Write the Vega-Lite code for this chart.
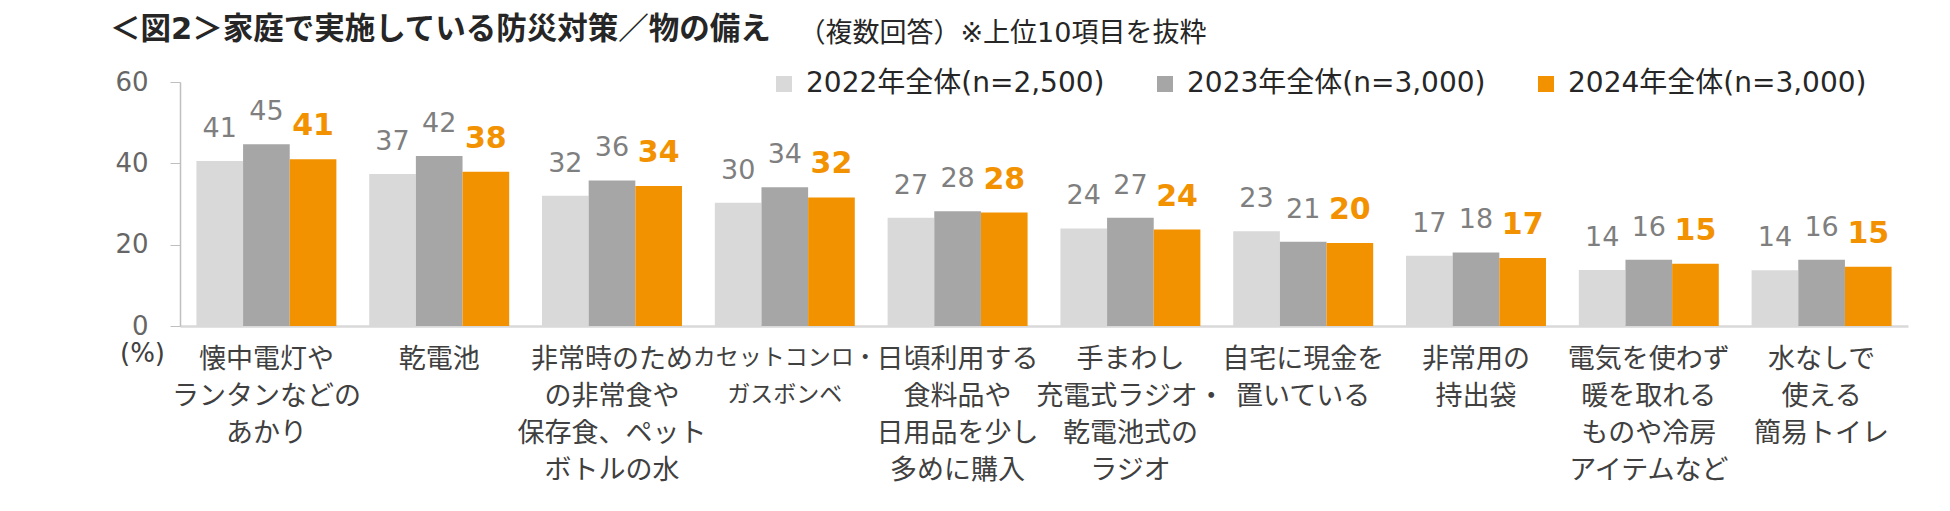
{
  "$schema": "https://vega.github.io/schema/vega-lite/v6.json",
  "width": 1728,
  "height": 244,
  "autosize": "none",
  "padding": {"left": 180, "top": 82, "right": 42, "bottom": 185},
  "background": "white",
  "title": {
    "text": "＜図2＞家庭で実施している防災対策／物の備え",
    "anchor": "start",
    "frame": "group",
    "dx": -70,
    "offset": -26,
    "font": "DejaVu Sans, Noto Sans CJK JP",
    "fontSize": 30.5,
    "fontWeight": "bold",
    "color": "#262626"
  },
  "data": {
    "values": [
      {"item": "懐中電灯や\nランタンなどの\nあかり", "year": "2022年全体(n=2,500)", "pct": 40.6},
      {"item": "懐中電灯や\nランタンなどの\nあかり", "year": "2023年全体(n=3,000)", "pct": 44.7},
      {"item": "懐中電灯や\nランタンなどの\nあかり", "year": "2024年全体(n=3,000)", "pct": 41.0},
      {"item": "乾電池", "year": "2022年全体(n=2,500)", "pct": 37.4},
      {"item": "乾電池", "year": "2023年全体(n=3,000)", "pct": 41.8},
      {"item": "乾電池", "year": "2024年全体(n=3,000)", "pct": 37.9},
      {"item": "非常時のため\nの非常食や\n保存食、ペット\nボトルの水", "year": "2022年全体(n=2,500)", "pct": 32.0},
      {"item": "非常時のため\nの非常食や\n保存食、ペット\nボトルの水", "year": "2023年全体(n=3,000)", "pct": 35.8},
      {"item": "非常時のため\nの非常食や\n保存食、ペット\nボトルの水", "year": "2024年全体(n=3,000)", "pct": 34.4},
      {"item": "カセットコンロ・\nガスボンベ", "year": "2022年全体(n=2,500)", "pct": 30.3},
      {"item": "カセットコンロ・\nガスボンベ", "year": "2023年全体(n=3,000)", "pct": 34.1},
      {"item": "カセットコンロ・\nガスボンベ", "year": "2024年全体(n=3,000)", "pct": 31.6},
      {"item": "日頃利用する\n食料品や\n日用品を少し\n多めに購入", "year": "2022年全体(n=2,500)", "pct": 26.6},
      {"item": "日頃利用する\n食料品や\n日用品を少し\n多めに購入", "year": "2023年全体(n=3,000)", "pct": 28.2},
      {"item": "日頃利用する\n食料品や\n日用品を少し\n多めに購入", "year": "2024年全体(n=3,000)", "pct": 27.9},
      {"item": "手まわし\n充電式ラジオ・\n乾電池式の\nラジオ", "year": "2022年全体(n=2,500)", "pct": 24.0},
      {"item": "手まわし\n充電式ラジオ・\n乾電池式の\nラジオ", "year": "2023年全体(n=3,000)", "pct": 26.6},
      {"item": "手まわし\n充電式ラジオ・\n乾電池式の\nラジオ", "year": "2024年全体(n=3,000)", "pct": 23.7},
      {"item": "自宅に現金を\n置いている", "year": "2022年全体(n=2,500)", "pct": 23.3},
      {"item": "自宅に現金を\n置いている", "year": "2023年全体(n=3,000)", "pct": 20.7},
      {"item": "自宅に現金を\n置いている", "year": "2024年全体(n=3,000)", "pct": 20.4},
      {"item": "非常用の\n持出袋", "year": "2022年全体(n=2,500)", "pct": 17.3},
      {"item": "非常用の\n持出袋", "year": "2023年全体(n=3,000)", "pct": 18.1},
      {"item": "非常用の\n持出袋", "year": "2024年全体(n=3,000)", "pct": 16.7},
      {"item": "電気を使わず\n暖を取れる\nものや冷房\nアイテムなど", "year": "2022年全体(n=2,500)", "pct": 13.8},
      {"item": "電気を使わず\n暖を取れる\nものや冷房\nアイテムなど", "year": "2023年全体(n=3,000)", "pct": 16.3},
      {"item": "電気を使わず\n暖を取れる\nものや冷房\nアイテムなど", "year": "2024年全体(n=3,000)", "pct": 15.3},
      {"item": "水なしで\n使える\n簡易トイレ", "year": "2022年全体(n=2,500)", "pct": 13.7},
      {"item": "水なしで\n使える\n簡易トイレ", "year": "2023年全体(n=3,000)", "pct": 16.3},
      {"item": "水なしで\n使える\n簡易トイレ", "year": "2024年全体(n=3,000)", "pct": 14.6}
    ]
  },
  "encoding": {
    "x": {
      "field": "item",
      "type": "nominal",
      "sort": null,
      "scale": {"paddingInner": 0.19, "paddingOuter": 0.095},
      "axis": {
        "title": "（複数回答）※上位10項目を抜粋",
        "titleX": 618,
        "titleY": -293,
        "titleAlign": "left",
        "titleAnchor": "start",
        "titleBaseline": "middle",
        "titleFontSize": 27,
        "titleFontWeight": "normal",
        "titleColor": "#262626",
        "labelAngle": 0,
        "labelExpr": "split(datum.label, '\\n')",
        "labelFontSize": {
          "condition": {"test": "indexof(datum.label, 'カセット') >= 0", "value": 23},
          "value": 27
        },
        "labelColor": "#404040",
        "labelLineHeight": 37,
        "labelBaseline": "top",
        "labelPadding": 20,
        "labelLimit": 400,
        "labelOverlap": false,
        "labelBound": false,
        "ticks": false,
        "domainColor": "#d9d9d9",
        "domainWidth": 2.5
      }
    },
    "xOffset": {
      "field": "year",
      "type": "nominal",
      "sort": null,
      "scale": {
        "domain": ["2022年全体(n=2,500)", "2023年全体(n=3,000)", "2024年全体(n=3,000)"],
        "paddingInner": 0,
        "paddingOuter": 0
      }
    },
    "y": {
      "field": "pct",
      "type": "quantitative",
      "scale": {"domain": [0, 60]},
      "axis": {
        "values": [0, 20, 40, 60],
        "grid": false,
        "tickSize": 10,
        "tickColor": "#bfbfbf",
        "domainColor": "#bfbfbf",
        "domainWidth": 1.5,
        "labelFontSize": 26,
        "labelColor": "#666666",
        "labelPadding": 22,
        "title": "(%)",
        "titleAngle": 0,
        "titleX": -38,
        "titleY": 271,
        "titleAlign": "center",
        "titleBaseline": "middle",
        "titleFontSize": 26,
        "titleFontWeight": "normal",
        "titleColor": "#404040"
      }
    }
  },
  "layer": [
    {
      "mark": {"type": "bar"},
      "encoding": {
        "color": {
          "field": "year",
          "type": "nominal",
          "scale": {
            "domain": ["2022年全体(n=2,500)", "2023年全体(n=3,000)", "2024年全体(n=3,000)"],
            "range": ["#d9d9d9", "#a6a6a6", "#f39200"]
          },
          "legend": {
            "title": null,
            "orient": "none",
            "legendX": 590,
            "legendY": -12,
            "direction": "horizontal",
            "columns": 3,
            "gridAlign": "all",
            "columnPadding": 46,
            "padding": 0,
            "symbolType": "square",
            "symbolSize": 256,
            "symbolStrokeWidth": 0,
            "labelFontSize": 28,
            "labelColor": "#262626",
            "labelOffset": 8,
            "labelLimit": 500
          }
        }
      }
    },
    {
      "transform": [{"filter": "datum.year !== '2024年全体(n=3,000)'"}],
      "mark": {"type": "text", "baseline": "alphabetic", "dy": -24, "fontSize": 27, "color": "#7f7f7f"},
      "encoding": {"text": {"field": "pct", "type": "quantitative", "format": ".0f"}}
    },
    {
      "transform": [{"filter": "datum.year === '2024年全体(n=3,000)'"}],
      "mark": {"type": "text", "baseline": "alphabetic", "dy": -24, "fontSize": 30, "fontWeight": "bold", "color": "#f39200"},
      "encoding": {"text": {"field": "pct", "type": "quantitative", "format": ".0f"}}
    }
  ],
  "config": {
    "font": "DejaVu Sans, Noto Sans CJK JP",
    "view": {"stroke": null}
  }
}
